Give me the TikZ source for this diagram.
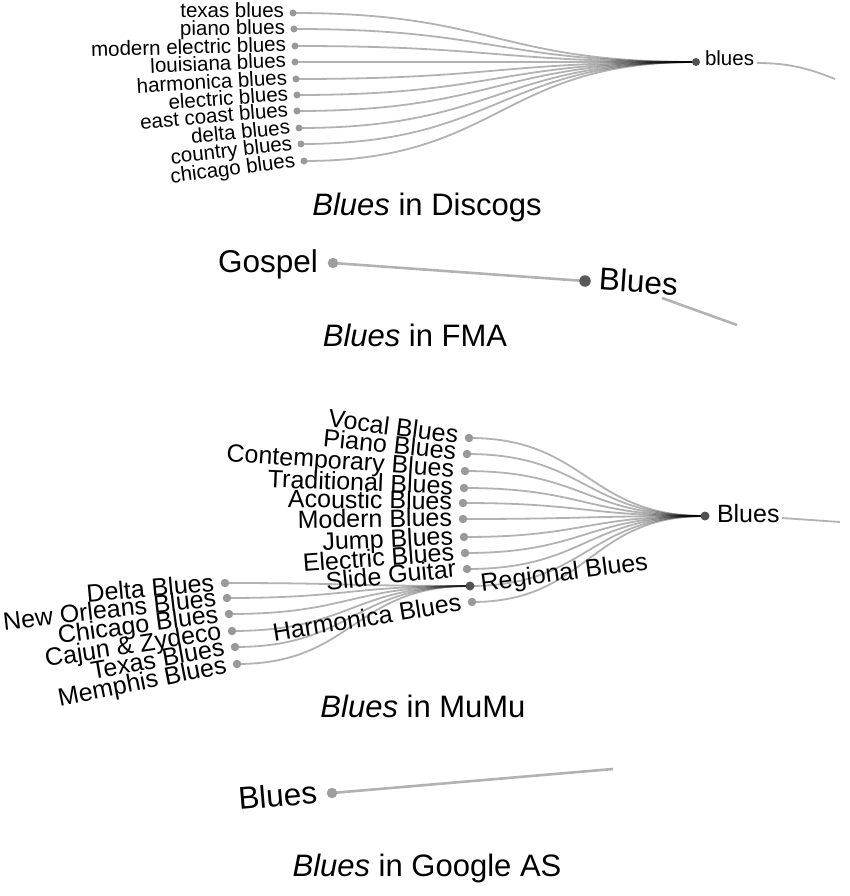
\documentclass[tikz,border=0pt]{standalone}
\usepackage{fontspec}
\setmainfont{Liberation Sans}
\usetikzlibrary{calc,backgrounds}
\tikzset{
  lnk/.style={draw=black, draw opacity=0.3, line width=1.8pt},
  thicklnk/.style={lnk, line width=2.6pt},
  ddot/.style={circle, fill=black!40, draw=none, minimum size=7pt, inner sep=0pt},
  ddotr/.style={circle, fill=black!68, draw=none, minimum size=8pt, inner sep=0pt},
  mdot/.style={circle, fill=black!40, draw=none, minimum size=8.5pt, inner sep=0pt},
  mdotr/.style={circle, fill=black!68, draw=none, minimum size=9pt, inner sep=0pt},
  bdot/.style={circle, fill=black!38, draw=none, minimum size=10.5pt, inner sep=0pt},
  bdotr/.style={circle, fill=black!65, draw=none, minimum size=11.5pt, inner sep=0pt},
  dlab/.style={inner sep=0pt, outer sep=0pt, font=\fontsize{20.5}{20.5}\selectfont},
  mlab/.style={inner sep=0pt, outer sep=0pt, font=\fontsize{25}{25}\selectfont},
  blab/.style={inner sep=0pt, outer sep=0pt, font=\fontsize{31.5}{31.5}\selectfont},
  captxt/.style={inner sep=0pt, outer sep=0pt, anchor=base, font=\fontsize{31}{31}\selectfont},
}
% name, x, y, angle, text, label style, dot style, gap, baseline drop
\newcommand\leafL[9]{%
  \node[#7] (#1) at (#2,#3) {};
  \begin{scope}[shift={(#2,#3)},rotate=#4]
    \node[#6,anchor=base east,transform shape] (#1l) at (-#8,#9) {#5};
  \end{scope}}
\newcommand\leafR[9]{%
  \node[#7] (#1) at (#2,#3) {};
  \begin{scope}[shift={(#2,#3)},rotate=#4]
    \node[#6,anchor=base west,transform shape] (#1l) at (#8,#9) {#5};
  \end{scope}}
\newcommand\dlink[2]{%
  \begin{pgfonlayer}{background}
    \draw[lnk] let \p1=(#1.center), \p2=(#2.center) in
      (#1.center) .. controls ({0.5*\x1+0.5*\x2},\y1) and ({0.5*\x1+0.5*\x2},\y2) .. (#2.center);
  \end{pgfonlayer}}

\begin{document}
\begin{tikzpicture}[x=1pt,y=-1pt]
\useasboundingbox (0,0) rectangle (849,896);

% ---------------- Discogs ----------------
\leafR{dblues}{696}{62}{0}{blues}{dlab}{ddotr}{9}{4}
\leafL{dtexas}{293}{13}{0}{texas blues}{dlab}{ddot}{9}{5}
\leafL{dpiano}{294}{29}{0.8}{piano blues}{dlab}{ddot}{9}{5}
\leafL{dmodern}{295}{46}{1.6}{modern electric blues}{dlab}{ddot}{9}{5}
\leafL{dlouis}{295}{62}{2.4}{louisiana blues}{dlab}{ddot}{9}{5}
\leafL{dharm}{296}{79}{3.3}{harmonica blues}{dlab}{ddot}{9}{5}
\leafL{delec}{297}{95}{4.1}{electric blues}{dlab}{ddot}{9}{5}
\leafL{deast}{297}{111}{4.9}{east coast blues}{dlab}{ddot}{9}{5}
\leafL{ddelta}{299}{128}{5.7}{delta blues}{dlab}{ddot}{9}{5}
\leafL{dcountry}{301}{144}{6.6}{country blues}{dlab}{ddot}{9}{5}
\leafL{dchicago}{304}{161}{7.4}{chicago blues}{dlab}{ddot}{9}{5}
\foreach \nm in {dtexas,dpiano,dmodern,dlouis,dharm,delec,deast,ddelta,dcountry,dchicago}{\dlink{\nm}{dblues}}
\coordinate (dp1) at (757,63);
\coordinate (dp2) at (835,79);
\draw[lnk] (dp1) .. controls (790,63) and (810,69) .. (dp2);
\node[captxt] (capd) at (427,215) {\textit{Blues} in Discogs};

% ---------------- FMA ----------------
\leafL{gospel}{333}{263}{0}{Gospel}{blab}{bdot}{15}{9}
\leafR{fblues}{585}{281}{-4}{Blues}{blab}{bdotr}{14}{8}
\begin{pgfonlayer}{background}
\draw[thicklnk] (gospel.center) -- (fblues.center);
\end{pgfonlayer}
\coordinate (fp1) at (662,298);
\coordinate (fp2) at (737,325);
\draw[thicklnk] (fp1) -- (fp2);
\node[captxt] (capf) at (415,346) {\textit{Blues} in FMA};

% ---------------- MuMu ----------------
\leafR{mroot}{705}{516}{0}{Blues}{mlab}{mdotr}{12}{6}
\leafL{mvocal}{469}{438}{-7.3}{Vocal Blues}{mlab}{mdot}{11}{7}
\leafL{mpiano}{467}{454}{-5.7}{Piano Blues}{mlab}{mdot}{11}{7}
\leafL{mcont}{465}{471}{-4.0}{Contemporary Blues}{mlab}{mdot}{11}{7}
\leafL{mtrad}{464}{488}{-2.3}{Traditional Blues}{mlab}{mdot}{11}{7}
\leafL{macou}{463}{503}{-0.8}{Acoustic Blues}{mlab}{mdot}{11}{7}
\leafL{mmod}{463}{519}{0.8}{Modern Blues}{mlab}{mdot}{11}{7}
\leafL{mjump}{464}{537}{2.6}{Jump Blues}{mlab}{mdot}{11}{7}
\leafL{melec}{465}{553}{4.2}{Electric Blues}{mlab}{mdot}{11}{7}
\leafL{mslide}{467}{569}{5.8}{Slide Guitar}{mlab}{mdot}{11}{7}
\leafR{mreg}{470}{586}{7.5}{Regional Blues}{mlab}{mdotr}{11}{7}
\leafL{mharm}{472}{602}{9.3}{Harmonica Blues}{mlab}{mdot}{11}{7}
\leafL{mdelta}{225}{583}{5.2}{Delta Blues}{mlab}{mdot}{11}{7}
\leafL{mnew}{227}{598}{6.4}{New Orleans Blues}{mlab}{mdot}{11}{7}
\leafL{mchic}{229}{614}{7.6}{Chicago Blues}{mlab}{mdot}{11}{7}
\leafL{mcajun}{232}{631}{8.8}{Cajun \& Zydeco}{mlab}{mdot}{11}{7}
\leafL{mtexas}{235}{647}{10}{Texas Blues}{mlab}{mdot}{11}{7}
\leafL{mmemph}{237}{664}{11.2}{Memphis Blues}{mlab}{mdot}{11}{7}
\foreach \nm in {mvocal,mpiano,mcont,mtrad,macou,mmod,mjump,melec,mslide,mreg,mharm}{\dlink{\nm}{mroot}}
\foreach \nm in {mdelta,mnew,mchic,mcajun,mtexas,mmemph}{\dlink{\nm}{mreg}}
\coordinate (mp1) at (782,518);
\coordinate (mp2) at (840,522);
\draw[lnk] (mp1) -- (mp2);
\node[captxt] (capm) at (423,717) {\textit{Blues} in MuMu};

% ---------------- Google AS ----------------
\leafL{gblues}{332}{793}{4.8}{Blues}{blab}{bdot}{15}{9}
\coordinate (gp) at (613,769);
\begin{pgfonlayer}{background}
\draw[thicklnk] (gblues.center) -- (gp);
\end{pgfonlayer}
\node[captxt] (capg) at (427,876) {\textit{Blues} in Google AS};
\end{tikzpicture}
\end{document}
